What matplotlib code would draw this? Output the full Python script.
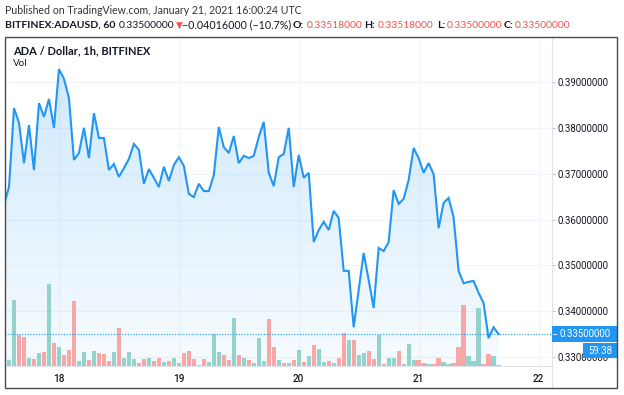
import numpy as np
import pandas as pd
import matplotlib
matplotlib.use("Agg")
import matplotlib.pyplot as plt
import matplotlib.dates as mdates
from matplotlib.patches import Rectangle
from matplotlib.lines import Line2D
from matplotlib.ticker import MultipleLocator, FormatStrFormatter

# ---------- data (hourly ADA/USD, Bitfinex) ----------
start = "2021-01-17 13:00"

close = [
    0.3632, 0.3671, 0.3843, 0.3811, 0.3723, 0.3806, 0.3708, 0.3854, 0.3824, 0.3863,
    0.3800, 0.3928, 0.3907, 0.3865, 0.3730, 0.3745, 0.3800, 0.3734, 0.3832, 0.3778,
    0.3778, 0.3708, 0.3721, 0.3693, 0.3712, 0.3732, 0.3765, 0.3752, 0.3678, 0.3710,
    0.3691, 0.3671, 0.3715, 0.3684, 0.3719, 0.3736, 0.3717, 0.3656, 0.3649, 0.3678,
    0.3662, 0.3662, 0.3697, 0.3802, 0.3758, 0.3745, 0.3782, 0.3723, 0.3739, 0.3734,
    0.3739, 0.3780, 0.3813, 0.3702, 0.3673, 0.3736, 0.3743, 0.3800, 0.3671, 0.3741,
    0.3691, 0.3702, 0.3551, 0.3577, 0.3595, 0.3577, 0.3619, 0.3603, 0.3488, 0.3488,
    0.3365, 0.3446, 0.3527, 0.3468, 0.3407, 0.3538, 0.3531, 0.3551, 0.3664, 0.3634,
    0.3645, 0.3686, 0.3756, 0.3734, 0.3702, 0.3723, 0.3699, 0.3581, 0.3636, 0.3647,
    0.3605, 0.3488, 0.3461, 0.3464, 0.3466, 0.3440, 0.3418, 0.3341, 0.3365, 0.3350,
]

volume = [
    22, 6, 66, 31, 29, 8, 7, 13, 14, 82,
    23, 19, 11, 16, 65, 5, 14, 6, 15, 13,
    12, 5, 14, 38, 8, 14, 7, 3, 7, 8,
    5, 8, 4, 5, 8, 3, 13, 15, 7, 1,
    7, 4, 32, 14, 11, 6, 48, 11, 8, 6,
    3, 28, 5, 47, 19, 6, 3, 3, 6, 16,
    4, 10, 21, 17, 4, 5, 3, 8, 33, 26,
    26, 11, 13, 15, 7, 31, 2, 8, 8, 15,
    2, 22, 6, 6, 3, 2, 2, 8, 4, 2,
    3, 19, 61, 10, 5, 58, 2, 12, 10, 1,
]

# 1 = up candle (teal volume bar), 0 = down candle (red)
vol_up = [
    0, 1, 1, 0, 0, 1, 0, 1, 0, 1,
    0, 1, 0, 0, 0, 1, 1, 0, 1, 0,
    0, 0, 1, 0, 1, 1, 1, 0, 0, 1,
    0, 0, 1, 0, 1, 1, 0, 0, 0, 1,
    0, 1, 1, 1, 0, 0, 1, 0, 1, 0,
    1, 1, 1, 0, 0, 1, 0, 1, 0, 1,
    0, 1, 0, 1, 1, 0, 1, 0, 0, 1,
    0, 1, 1, 0, 0, 1, 0, 1, 1, 0,
    1, 1, 1, 0, 0, 1, 0, 0, 1, 1,
    0, 0, 0, 1, 1, 1, 0, 0, 1, 0,
]

last_price = 0.335
countdown = "59:38"

# ---------- figure ----------
W, H = 624, 395
fig = plt.figure(figsize=(W / 100, H / 100), dpi=100)
fig.patch.set_facecolor("white")

BLUE = "#2196f3"
TEXT = "#131722"
GRID = "#f0f3fa"
SEP = "#e0e3eb"
AXFONT = "Roboto"

# plot area in pixels: x 5..551.5, y 37..366
L, R, T, B = 5, 551.5, 37, 366
ax = fig.add_axes([L / W, 1 - B / H, (R - L) / W, (B - T) / H])

x = mdates.date2num(pd.date_range(start, periods=len(close), freq="h"))
close = np.array(close)
ybot, ytop = 0.32804, 0.39982

# gradient area under the line
poly = ax.fill_between(x, close, ybot, facecolor="none", edgecolor="none")
grad = np.zeros((256, 1, 4))
grad[:, :, :3] = matplotlib.colors.to_rgb(BLUE)
grad[:, 0, 3] = np.linspace(0.04, 0.21, 256)
im = ax.imshow(grad, extent=[x[0], x[-1], ybot, close.max()], origin="lower",
               aspect="auto", zorder=1, interpolation="bilinear")
im.set_clip_path(poly.get_paths()[0], transform=ax.transData)

# volume overlay (height in axes fraction)
bar_cols = ["#93d3cb" if u else "#f6a7a6" for u in vol_up]
ax.bar(x, np.array(volume) / 329.0, width=0.85 / 24, bottom=0, color=bar_cols,
       transform=ax.get_xaxis_transform(), zorder=2, linewidth=0)

ax.axhline(last_price, color=BLUE, lw=0.8, ls=(0, (1, 1.5)), zorder=3)
ax.plot(x, close, color=BLUE, lw=1.5, zorder=4, solid_joinstyle="miter")

ax.set_xlim(x[0] + 0.2 / 24, x[0] + 109.6 / 24)
ax.set_ylim(ybot, ytop)

ax.xaxis.set_major_locator(mdates.DayLocator())
ax.xaxis.set_major_formatter(mdates.DateFormatter("%d"))
ax.yaxis.set_major_locator(MultipleLocator(0.01))
ax.yaxis.set_major_formatter(FormatStrFormatter("%.8f"))
ax.yaxis.tick_right()

ax.grid(True, color=GRID, lw=0.8)
ax.set_axisbelow(True)
ax.tick_params(axis="y", length=2.5, width=0.6, color="#b2b5be", pad=1.8,
               labelsize=6.9, labelcolor=TEXT)
ax.tick_params(axis="x", length=0, pad=5.5, labelsize=7.2, labelcolor=TEXT)
for lab in ax.get_xticklabels() + ax.get_yticklabels():
    lab.set_family(AXFONT)
for lab in ax.get_xticklabels():
    lab.set_weight("medium")

for s in ["left", "top", "right"]:
    ax.spines[s].set_visible(False)
ax.spines["bottom"].set_color(SEP)
ax.spines["bottom"].set_linewidth(0.8)

# right price-scale separator
fig.add_artist(Line2D([R / W, R / W], [1 - T / H, 1 - 388 / H], color=SEP, lw=0.8))

# outer widget frame
fig.add_artist(Rectangle((5 / W, 1 - 388 / H), 612 / W, 351 / H, fill=False,
                         edgecolor="#4a4a4a", lw=1.0, zorder=5))

# last price label + countdown
fig.add_artist(Rectangle((R / W, 1 - 342 / H), (617 - R) / W, 16 / H,
                         facecolor=BLUE, edgecolor="none", zorder=4))
fig.add_artist(Rectangle((583 / W, 1 - 358 / H), 34 / W, 15 / H,
                         facecolor=BLUE, edgecolor="none", zorder=4))
fig.add_artist(Line2D([553 / W, 556 / W], [1 - 334 / H] * 2, color="white", lw=0.6, zorder=6))
fig.text(559 / W, 1 - 334 / H, f"{last_price:.8f}", color="white", fontsize=6.9,
         va="center", ha="left", zorder=6, family=AXFONT)
fig.text(600 / W, 1 - 350.5 / H, countdown, color="white", fontsize=6.9,
         va="center", ha="center", zorder=6, family=AXFONT)

# ---------- header texts ----------
renderer = fig.canvas.get_renderer()
FONT = ["Lato", "DejaVu Sans"]


def put(xp, yp, s, width=None, size=7.5, **kw):
    t = fig.text(xp / W, 1 - yp / H, s, fontsize=size, va="center", ha="left",
                 family=FONT, **kw)
    if width:
        bb = t.get_window_extent(renderer)
        t.set_fontsize(size * width / bb.width)
    return t


RED = "#ef5350"
put(5, 11, "Published on TradingView.com, January 21, 2021 16:00:24 UTC", 294, color="#333333")

t = put(5, 25, "BITFINEX:ADAUSD, 60", 110, weight="bold", color=TEXT)
bsize = t.get_fontsize()
put(119, 25, "0.33500000", 55, color=TEXT)
fig.text(175.5 / W, 1 - 25 / H, "\u25bc", fontsize=bsize * 0.85, color=RED,
         va="center", ha="left", family="DejaVu Sans")
put(182, 25, "\u22120.04016000 (\u221210.7%)", 107, color=TEXT)
for lab, xl, xv in [("O:", 292.5, 307), ("H:", 364.5, 378), ("L:", 437, 447), ("C:", 504, 515)]:
    put(xl, 25, lab, size=bsize, weight="bold", color=TEXT)
    put(xv, 25, "0.33518000" if lab in ("O:", "H:") else "0.33500000", 55, color=RED)

# legend inside the pane
put(12.7, 51, "ADA / Dollar, 1h, BITFINEX", 137, weight="bold", color=TEXT)
put(12.7, 64, "Vol", 14.5, color=TEXT)

fig.savefig("out.png", dpi=100)
